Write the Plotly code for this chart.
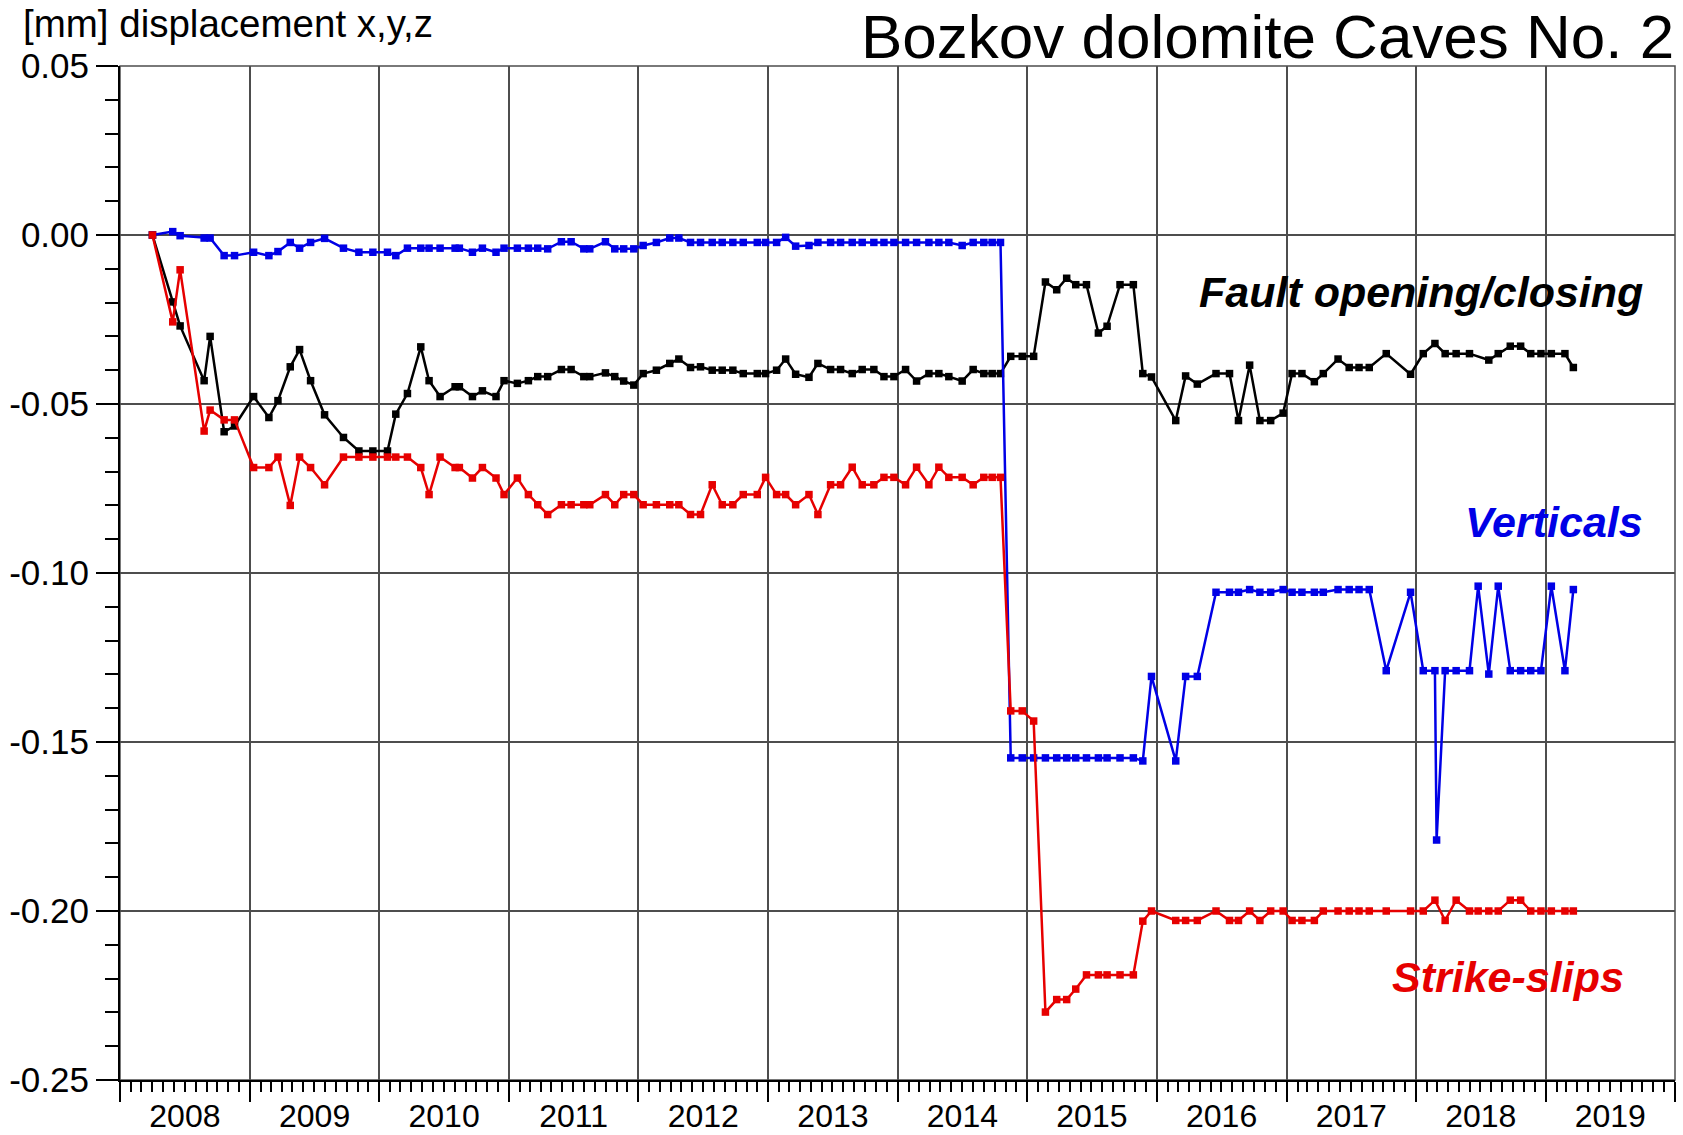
import datetime as _dt
import plotly.graph_objects as go

# ---------------- data (decimal years, displacement in mm) ----------------
dates_dec = [
    2008.250, 2008.406, 2008.463, 2008.648, 2008.694, 2008.802, 2008.882,
    2009.029, 2009.147, 2009.217, 2009.312, 2009.384, 2009.469, 2009.577, 2009.723, 2009.842, 2009.950,
    2010.063, 2010.127, 2010.217, 2010.320, 2010.384, 2010.469, 2010.585, 2010.618, 2010.719, 2010.796, 2010.901, 2010.963,
    2011.066, 2011.151, 2011.223, 2011.300, 2011.406, 2011.481, 2011.579, 2011.625, 2011.746, 2011.818, 2011.887, 2011.965,
    2012.037, 2012.139, 2012.242, 2012.312, 2012.402, 2012.479, 2012.569, 2012.646, 2012.728, 2012.808, 2012.916, 2012.980,
    2013.065, 2013.135, 2013.212, 2013.315, 2013.384, 2013.482, 2013.559, 2013.649, 2013.726, 2013.816, 2013.894, 2013.971,
    2014.061, 2014.146, 2014.241, 2014.318, 2014.395, 2014.498, 2014.583, 2014.665, 2014.730, 2014.794, 2014.873, 2014.962,
    2015.050, 2015.141, 2015.228, 2015.305, 2015.375, 2015.458, 2015.550, 2015.617, 2015.717, 2015.820, 2015.893, 2015.960,
    2016.147, 2016.223, 2016.313, 2016.457, 2016.561, 2016.630, 2016.716, 2016.795, 2016.878, 2016.974,
    2017.043, 2017.119, 2017.215, 2017.284, 2017.398, 2017.484, 2017.560, 2017.639, 2017.770, 2017.958,
    2018.056, 2018.146, 2018.159, 2018.225, 2018.310, 2018.413, 2018.480, 2018.562, 2018.635, 2018.728, 2018.808, 2018.886, 2018.965,
    2019.045, 2019.150, 2019.215,
]

fault_opening = [
    0.0, -0.0198, -0.0269, -0.0431, -0.0300, -0.0582, -0.0565,
    -0.0478, -0.0540, -0.0490, -0.0390, -0.0339, -0.0431, -0.0532, -0.0599, -0.0639, -0.0639,
    -0.0639, -0.0530, -0.0469, -0.0331, -0.0431, -0.0478, -0.0449, -0.0449, -0.0478, -0.0461, -0.0478, -0.0431,
    -0.0439, -0.0431, -0.0419, -0.0419, -0.0398, -0.0398, -0.0419, -0.0419, -0.0408, -0.0419, -0.0432, -0.0444,
    -0.0410, -0.0400, -0.0380, -0.0367, -0.0392, -0.0390, -0.0400, -0.0400, -0.0400, -0.0410, -0.0410, -0.0410,
    -0.0400, -0.0367, -0.0412, -0.0421, -0.0380, -0.0398, -0.0398, -0.0410, -0.0398, -0.0398, -0.0419, -0.0419,
    -0.0398, -0.0432, -0.0410, -0.0410, -0.0419, -0.0432, -0.0398, -0.0410, -0.0410, -0.0410, -0.0359, -0.0359,
    -0.0359, -0.0139, -0.0162, -0.0128, -0.0147, -0.0147, -0.0290, -0.0270, -0.0147, -0.0147, -0.0410, -0.0420,
    -0.0549, -0.0417, -0.0441, -0.0410, -0.0410, -0.0549, -0.0385, -0.0549, -0.0549, -0.0527,
    -0.0410, -0.0410, -0.0434, -0.0410, -0.0367, -0.0392, -0.0392, -0.0392, -0.0351, -0.0412,
    -0.0351, -0.0321, None, -0.0351, -0.0351, -0.0351, None, -0.0370, -0.0351, -0.0329, -0.0329, -0.0351, -0.0351,
    -0.0351, -0.0351, -0.0392,
]

verticals = [
    0.0, 0.0010, -0.0002, -0.0009, -0.0009, -0.0061, -0.0061,
    -0.0051, -0.0061, -0.0049, -0.0022, -0.0039, -0.0022, -0.0010, -0.0039, -0.0051, -0.0051,
    -0.0051, -0.0061, -0.0039, -0.0039, -0.0039, -0.0039, -0.0039, -0.0039, -0.0051, -0.0039, -0.0051, -0.0039,
    -0.0039, -0.0039, -0.0039, -0.0041, -0.0020, -0.0020, -0.0041, -0.0041, -0.0020, -0.0041, -0.0041, -0.0041,
    -0.0031, -0.0022, -0.0009, -0.0009, -0.0022, -0.0022, -0.0022, -0.0022, -0.0022, -0.0022, -0.0022, -0.0022,
    -0.0022, -0.0007, -0.0033, -0.0031, -0.0022, -0.0022, -0.0022, -0.0022, -0.0022, -0.0022, -0.0022, -0.0022,
    -0.0022, -0.0022, -0.0022, -0.0022, -0.0022, -0.0031, -0.0022, -0.0022, -0.0022, -0.0022, -0.1547, -0.1547,
    -0.1547, -0.1547, -0.1547, -0.1547, -0.1547, -0.1547, -0.1547, -0.1547, -0.1547, -0.1547, -0.1556, -0.1306,
    -0.1556, -0.1306, -0.1306, -0.1057, -0.1057, -0.1057, -0.1049, -0.1057, -0.1057, -0.1049,
    -0.1057, -0.1057, -0.1057, -0.1057, -0.1049, -0.1049, -0.1049, -0.1049, -0.1289, -0.1057,
    -0.1289, -0.1289, -0.1790, -0.1289, -0.1289, -0.1289, -0.1039, -0.1299, -0.1039, -0.1289, -0.1289, -0.1289, -0.1289,
    -0.1039, -0.1289, -0.1049,
]

strike_slips = [
    0.0, -0.0257, -0.0103, -0.0580, -0.0518, -0.0547, -0.0547,
    -0.0688, -0.0688, -0.0657, -0.0800, -0.0657, -0.0688, -0.0739, -0.0657, -0.0657, -0.0657,
    -0.0657, -0.0657, -0.0657, -0.0688, -0.0768, -0.0657, -0.0688, -0.0688, -0.0719, -0.0688, -0.0719, -0.0768,
    -0.0719, -0.0768, -0.0798, -0.0827, -0.0798, -0.0798, -0.0798, -0.0798, -0.0768, -0.0798, -0.0768, -0.0768,
    -0.0798, -0.0798, -0.0798, -0.0798, -0.0827, -0.0827, -0.0739, -0.0798, -0.0798, -0.0768, -0.0768, -0.0717,
    -0.0768, -0.0768, -0.0798, -0.0768, -0.0827, -0.0739, -0.0739, -0.0687, -0.0739, -0.0739, -0.0717, -0.0717,
    -0.0739, -0.0687, -0.0739, -0.0687, -0.0717, -0.0717, -0.0739, -0.0717, -0.0717, -0.0717, -0.1408, -0.1408,
    -0.1438, -0.2299, -0.2262, -0.2262, -0.2231, -0.2189, -0.2189, -0.2189, -0.2189, -0.2189, -0.2030, -0.2000,
    -0.2028, -0.2028, -0.2028, -0.2000, -0.2028, -0.2028, -0.2000, -0.2028, -0.2000, -0.2000,
    -0.2028, -0.2028, -0.2028, -0.2000, -0.2000, -0.2000, -0.2000, -0.2000, -0.2000, -0.2000,
    -0.2000, -0.1968, None, -0.2028, -0.1968, -0.2000, -0.2000, -0.2000, -0.2000, -0.1968, -0.1968, -0.2000, -0.2000,
    -0.2000, -0.2000, -0.2000,
]

y_tick_vals = [0.05, 0.00, -0.05, -0.10, -0.15, -0.20, -0.25]
y_tick_text = ["0.05", "0.00", "-0.05", "-0.10", "-0.15", "-0.20", "-0.25"]

title_text = "Bozkov dolomite Caves No. 2"
y_title_text = "[mm] displacement x,y,z"
label_fault = "Fault opening/closing"
label_vert = "Verticals"
label_strike = "Strike-slips"


def to_date(y):
    yr = int(y)
    start = _dt.datetime(yr, 1, 1)
    end = _dt.datetime(yr + 1, 1, 1)
    return start + (end - start) * (y - yr)


dates = [to_date(d) for d in dates_dec]

FONT = "Liberation Sans, Arial, Helvetica, sans-serif"
BLACK = "#000000"
BLUE = "#0000e6"
RED = "#e60000"

fig = go.Figure()
for vals, col in ((fault_opening, BLACK), (verticals, BLUE), (strike_slips, RED)):
    fig.add_trace(go.Scatter(
        x=dates, y=vals, mode="lines+markers", connectgaps=True,
        line=dict(color=col, width=2.5),
        marker=dict(symbol="square", size=7.5, color=col),
        hoverinfo="skip",
    ))

FIG_W, FIG_H = 1683, 1135
M_L, M_R, M_T, M_B = 120, 8, 66, 55

grid_col = "#4d4d4d"
fig.update_layout(
    width=FIG_W, height=FIG_H,
    margin=dict(l=M_L, r=M_R, t=M_T, b=M_B),
    plot_bgcolor="white", paper_bgcolor="white",
    showlegend=False,
    font=dict(family=FONT, color="black"),
    xaxis=dict(
        type="date", range=[_dt.datetime(2008, 1, 1), _dt.datetime(2020, 1, 1)],
        tick0="2008-01-01", dtick="M12", tickformat="%Y", ticklabelmode="period",
        ticks="outside", ticklen=20, tickwidth=2, tickcolor="black",
        ticklabelstandoff=-13,
        showline=True, linecolor="black", linewidth=2,
        showgrid=True, gridcolor=grid_col, gridwidth=1.5,
        minor=dict(ticks="outside", ticklen=10, tickwidth=1.5, tickcolor="black",
                   dtick="M1", showgrid=False),
        tickfont=dict(size=32, family=FONT, color="black"),
        zeroline=False, automargin=False,
    ),
    yaxis=dict(
        range=[-0.25, 0.05],
        tickmode="array", tickvals=y_tick_vals, ticktext=y_tick_text,
        ticks="outside", ticklen=22, tickwidth=2, tickcolor="black",
        showline=True, linecolor="black", linewidth=2,
        showgrid=True, gridcolor=grid_col, gridwidth=1.5,
        minor=dict(ticks="outside", ticklen=13, tickwidth=1.5, tickcolor="black",
                   tickmode="linear", tick0=0, dtick=0.01, showgrid=False),
        tickfont=dict(size=35, family=FONT, color="black"),
        zeroline=False, automargin=False,
    ),
    shapes=[dict(type="rect", xref="paper", yref="paper", x0=0, x1=1, y0=0, y1=1,
                 line=dict(color=grid_col, width=1.5), layer="below")],
)

plot_w = FIG_W - M_L - M_R
plot_h = FIG_H - M_T - M_B


def px_x(px):
    return (px - M_L) / plot_w


def px_y(py):
    return (FIG_H - M_B - py) / plot_h


annotations = [
    dict(text=title_text, x=px_x(1676), y=px_y(0), xanchor="right", yanchor="top",
         font=dict(size=62, family=FONT, color="black")),
    dict(text=y_title_text, x=px_x(21), y=px_y(0), xanchor="left", yanchor="top",
         font=dict(size=38.5, family=FONT, color="black")),
    dict(text="<b><i>" + label_fault + "</i></b>", x=px_x(1645), y=px_y(292), xanchor="right",
         yanchor="middle", font=dict(size=43, family=FONT, color="black")),
    dict(text="<b><i>" + label_vert + "</i></b>", x=px_x(1645), y=px_y(522), xanchor="right",
         yanchor="middle", font=dict(size=43, family=FONT, color=BLUE)),
    dict(text="<b><i>" + label_strike + "</i></b>", x=px_x(1626), y=px_y(977), xanchor="right",
         yanchor="middle", font=dict(size=43, family=FONT, color=RED)),
]
for a in annotations:
    a.update(xref="paper", yref="paper", showarrow=False)
fig.update_layout(annotations=annotations)

# remove the default 8px body margin so the figure fills the window exactly
fig.write_html("out.html", config={"displayModeBar": False},
               post_script="document.body.style.margin='0';")
